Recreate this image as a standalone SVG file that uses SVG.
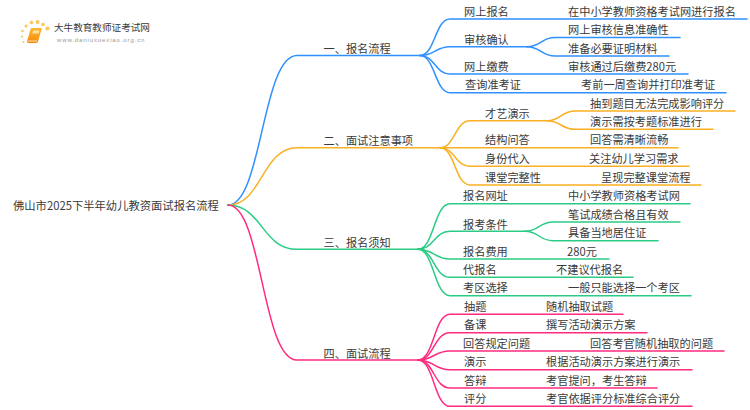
<svg xmlns="http://www.w3.org/2000/svg" width="750" height="410" viewBox="0 0 750 410">
<style>
text{font-family:"Noto Sans CJK SC","Noto Sans",sans-serif;font-size:11.2px;fill:#3a3a3a}
.c path{fill:none;stroke-width:1.5;stroke-linecap:round}
.b path{stroke:#2f90ff}.o path{stroke:#fbb023}.g path{stroke:#2bcb85}.p path{stroke:#ff2b80}
#logo-title{font-size:9.6px}
#logo-url{font-size:6px;letter-spacing:.88px;fill:#999;font-family:"Liberation Sans",sans-serif}
</style>
<defs>
<linearGradient id="book" x1="0" y1="0" x2="0" y2="1"><stop offset="0" stop-color="#fcb92c"/><stop offset="1" stop-color="#f58a12"/></linearGradient>
</defs>
<rect width="750" height="410" fill="#fff"/>
<g id="connectors" class="c">
<g class="b">
<path d="M228 205C262 205 262 55.500 297 55.500H420"/>
<path d="M420 55.500C435 55.500 435 19 450 19H747"/>
<path d="M420 55.500C435 55.500 435 46.700 450 46.700H527"/>
<path d="M527 46.700C541 46.700 541 37.500 555 37.500H680"/>
<path d="M527 46.700C541 46.700 541 56 555 56H669"/>
<path d="M420 55.500C435 55.500 435 74 450 74H688"/>
<path d="M420 55.500C435 55.500 435 92.700 450 92.700H726"/>
</g>
<g class="o">
<path d="M228 205C262 205 262 147.700 297 147.700H440"/>
<path d="M440 147.700C455 147.700 455 120.700 470 120.700H547"/>
<path d="M547 120.700C561 120.700 561 111 575 111H735"/>
<path d="M547 120.700C561 120.700 561 129.300 575 129.300H713"/>
<path d="M440 147.700H678"/>
<path d="M440 147.700C455 147.700 455 166.300 470 166.300H689"/>
<path d="M440 147.700C455 147.700 455 185 470 185H701"/>
</g>
<g class="g">
<path d="M228 205C262 205 262 249.300 297 249.300H418"/>
<path d="M418 249.300C434 249.300 434 203.700 450 203.700H690"/>
<path d="M418 249.300C434 249.300 434 231.300 450 231.300H525"/>
<path d="M525 231.300C539 231.300 539 222 553 222H680"/>
<path d="M525 231.300C539 231.300 539 240.700 553 240.700H658"/>
<path d="M418 249.300C434 249.300 434 259 450 259H609"/>
<path d="M418 249.300C434 249.300 434 277.300 450 277.300H633"/>
<path d="M418 249.300C434 249.300 434 295.700 450 295.700H691"/>
</g>
<g class="p">
<path d="M228 205C262 205 262 360 297 360H418"/>
<path d="M418 360C434 360 434 314.300 450 314.300H623"/>
<path d="M418 360C434 360 434 332.700 450 332.700H647"/>
<path d="M418 360C434 360 434 351 450 351H724"/>
<path d="M418 360C434 360 434 369.700 450 369.700H692"/>
<path d="M418 360C434 360 434 388 450 388H657"/>
<path d="M418 360C434 360 434 406.300 450 406.300H692"/>
</g>
</g>
<g id="logo">
<g fill="#fcc65a">
<circle cx="47.500" cy="28.500" r="2.100"/><circle cx="43" cy="24.500" r="1.800"/><circle cx="37.500" cy="22" r="1.900"/><circle cx="31.500" cy="22.500" r="1.800"/><circle cx="26" cy="26" r="1.500"/><circle cx="22.500" cy="31" r="1.300"/><circle cx="22" cy="36.500" r="1.100"/><circle cx="23.500" cy="42" r="1"/>
</g>
<path d="M31 28H42L38 41.500Q37.500 43 36 43H28Q26.500 43 27 41Z" fill="url(#book)"/>
<path d="M33 30.500H39.500L38.800 33.500H32.200Z" fill="#fde0a0"/>
<path d="M27.500 41H37" stroke="#fff" stroke-width=".7"/>
<text id="logo-title" x="54" y="31">大牛教育教师证考试网</text>
<text id="logo-url" x="57" y="42">www.daniuxuexiao.org.cn</text>
</g>
<g id="root"><text x="13" y="209.500" style="font-size:11.3px">佛山市2025下半年幼儿教资面试报名流程</text></g>
<g id="n1"><text x="323.500" y="52.700">一、报名流程</text></g>
<g id="n1-1"><text x="464" y="15.500">网上报名</text><text x="568" y="15.500">在中小学教师资格考试网进行报名</text></g>
<g id="n1-2"><text x="464" y="43.500">审核确认</text><text x="568" y="34">网上审核信息准确性</text><text x="568" y="52.500">准备必要证明材料</text></g>
<g id="n1-3"><text x="464" y="71">网上缴费</text><text x="568" y="71">审核通过后缴费280元</text></g>
<g id="n1-4"><text x="465" y="89">查询准考证</text><text x="581" y="89">考前一周查询并打印准考证</text></g>
<g id="n2"><text x="323.500" y="144.700">二、面试注意事项</text></g>
<g id="n2-1"><text x="485" y="117.500">才艺演示</text><text x="590" y="107.500">抽到题目无法完成影响评分</text><text x="590" y="126">演示需按考题标准进行</text></g>
<g id="n2-2"><text x="485" y="144">结构问答</text><text x="590" y="144">回答需清晰流畅</text></g>
<g id="n2-3"><text x="485" y="163">身份代入</text><text x="589" y="163">关注幼儿学习需求</text></g>
<g id="n2-4"><text x="485" y="181.500">课堂完整性</text><text x="601" y="181.500">呈现完整课堂流程</text></g>
<g id="n3"><text x="323.500" y="246.700">三、报名须知</text></g>
<g id="n3-1"><text x="463" y="200">报名网址</text><text x="568" y="200">中小学教师资格考试网</text></g>
<g id="n3-2"><text x="463" y="228.500">报考条件</text><text x="568" y="218.500">笔试成绩合格且有效</text><text x="568" y="237">具备当地居住证</text></g>
<g id="n3-3"><text x="463" y="255.500">报名费用</text><text x="567" y="255.500">280元</text></g>
<g id="n3-4"><text x="463" y="274">代报名</text><text x="556" y="274">不建议代报名</text></g>
<g id="n3-5"><text x="463" y="292">考区选择</text><text x="568" y="292">一般只能选择一个考区</text></g>
<g id="n4"><text x="323.500" y="357.700">四、面试流程</text></g>
<g id="n4-1"><text x="464" y="311">抽题</text><text x="546" y="311">随机抽取试题</text></g>
<g id="n4-2"><text x="464" y="329">备课</text><text x="546" y="329">撰写活动演示方案</text></g>
<g id="n4-3"><text x="463" y="347.500">回答规定问题</text><text x="590" y="347.500">回答考官随机抽取的问题</text></g>
<g id="n4-4"><text x="464" y="366">演示</text><text x="546" y="366">根据活动演示方案进行演示</text></g>
<g id="n4-5"><text x="464" y="384.500">答辩</text><text x="546" y="384.500">考官提问，考生答辩</text></g>
<g id="n4-6"><text x="464" y="403">评分</text><text x="546" y="403">考官依据评分标准综合评分</text></g>
</svg>
